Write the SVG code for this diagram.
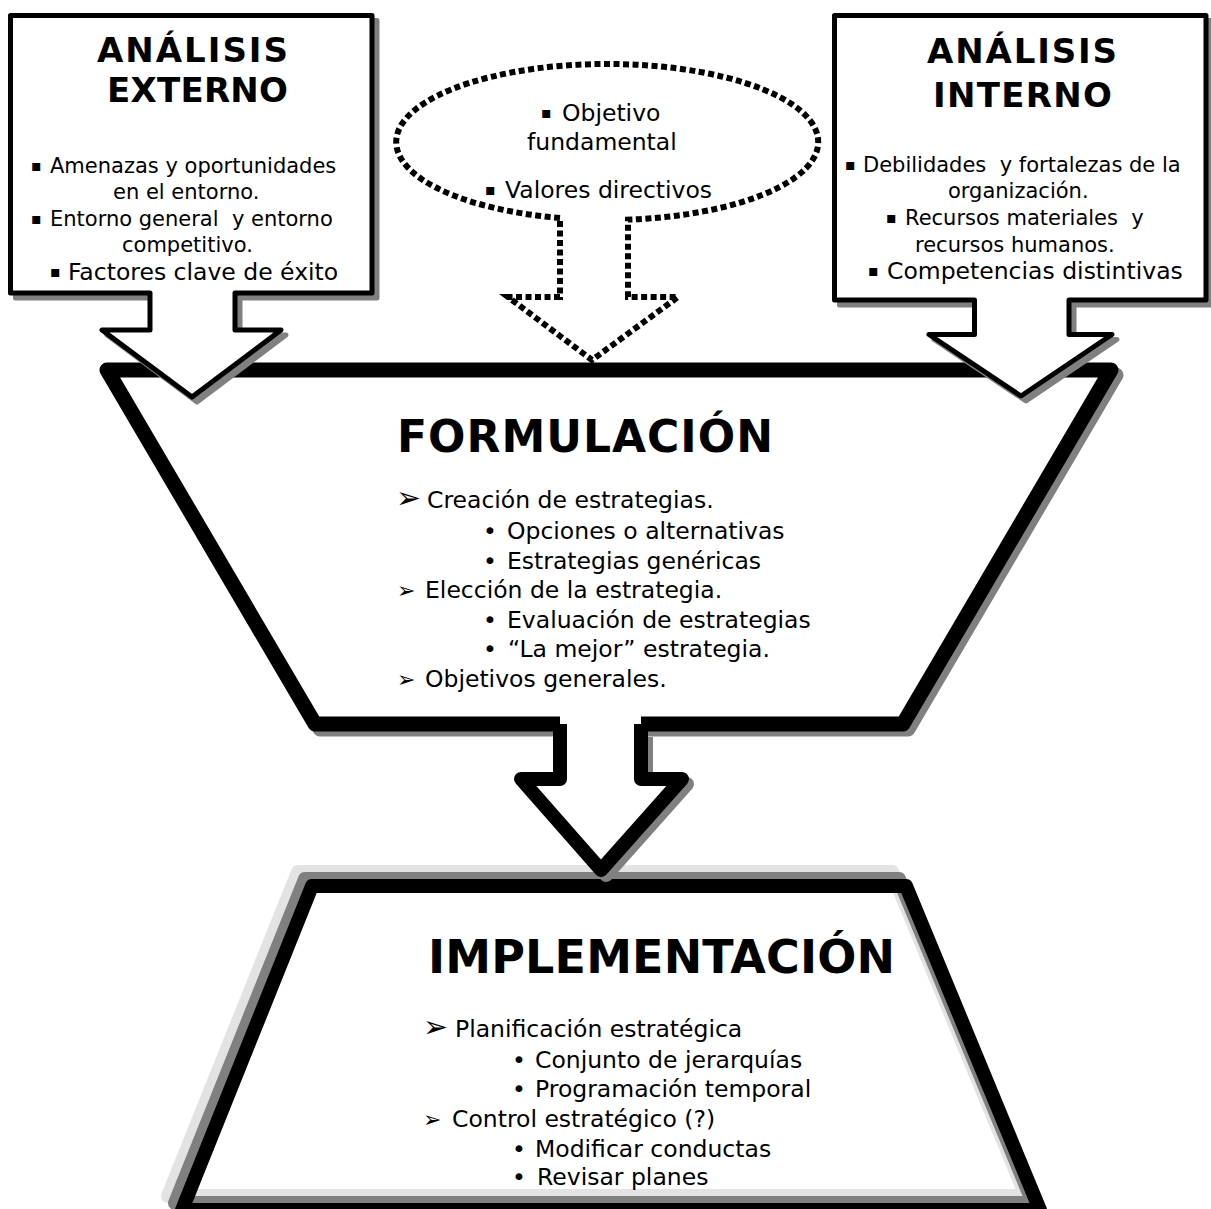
<svg xmlns="http://www.w3.org/2000/svg" xmlns:xlink="http://www.w3.org/1999/xlink" width="1211" height="1209" viewBox="0 0 1211 1209">
<style>
.t{font-family:"DejaVu Sans",Verdana,sans-serif;fill:#000}
.b{font-size:21px}
.m{font-size:23.5px}
.sq{font-size:16px}
.ar{font-size:30px;font-weight:bold}
.sm{font-size:22px;font-weight:bold}
.h{font-weight:bold}
.shadow{fill:#808080;stroke:#808080;stroke-linejoin:round}
.box{fill:#fff;stroke:#000;stroke-width:5;stroke-linejoin:round}
.thick{fill:#fff;stroke:#000;stroke-width:15;stroke-linejoin:round}
.outline{fill:none;stroke-width:14;stroke-linejoin:round}
.dotted{fill:#fff;stroke:#000;stroke-width:6;stroke-dasharray:6 3.5}
</style>
<defs>
<path id="formPath" d="M107 370 L1111 370 L903 724 L315 724 Z"/>
<path id="implPath" d="M312 886 L906 886 L1040 1210 L182 1210 Z"/>
<path id="leftCallout" d="M10.5 15.5 H372 V293 H235 V330 H281 L192 397 L102 330 H150 V293 H10.5 Z"/>
<path id="rightCallout" d="M834.5 15.5 H1206 V300 H1069 V334.5 H1112 L1021 396 L929 334.5 H974.5 V300 H834.5 Z"/>
</defs>
<rect width="1211" height="1209" fill="#fff"/>

<g id="formulacion">
<use xlink:href="#formPath" class="shadow" style="stroke-width:15" transform="translate(5,5)"/>
<use xlink:href="#formPath" class="thick"/>
</g>

<g id="implementacion">
<use xlink:href="#implPath" class="outline" stroke="#e3e3e3" transform="translate(-14,-14)"/>
<use xlink:href="#implPath" class="outline" stroke="#808080" transform="translate(-7,-7)"/>
<use xlink:href="#implPath" class="outline" stroke="#000"/>
</g>

<g id="connectors">
<g id="arrow-form-impl">
<path d="M565 737 V784 H526 L606 875 L687 784 H646 V737" fill="#808080" stroke="#808080" stroke-width="14" stroke-linejoin="round"/>
<path d="M560 712 H641 V779 H682 L601 870 L521 779 H560 Z" fill="#fff"/>
<path d="M560 724 V779 H521 L601 870 L682 779 H641 V724" fill="none" stroke="#000" stroke-width="14" stroke-linejoin="round"/>
</g>
</g>

<g id="analisis-externo">
<use xlink:href="#leftCallout" class="shadow" style="stroke-width:5" transform="translate(5,5)"/>
<use xlink:href="#leftCallout" class="box"/>
<text class="t h" font-size="34" x="97" y="62" textLength="191" lengthAdjust="spacing">ANÁLISIS</text>
<text class="t h" font-size="34" x="107" y="102" textLength="181" lengthAdjust="spacing">EXTERNO</text>
<text class="t b" xml:space="preserve" y="173"><tspan class="sq" x="31" dy="-2">▪</tspan><tspan x="50" dy="2">Amenazas y oportunidades</tspan></text>
<text class="t b" x="113" y="199">en el entorno.</text>
<text class="t b" xml:space="preserve" y="226"><tspan class="sq" x="31" dy="-2">▪</tspan><tspan x="50" dy="2">Entorno general  y entorno</tspan></text>
<text class="t b" x="122" y="252">competitivo.</text>
<text class="t m" y="280"><tspan class="sq" x="50" dy="-3">▪</tspan><tspan x="68" dy="3">Factores clave de éxito</tspan></text>
</g>

<g id="analisis-interno">
<use xlink:href="#rightCallout" class="shadow" style="stroke-width:5" transform="translate(5,5)"/>
<use xlink:href="#rightCallout" class="box"/>
<text class="t h" font-size="34" x="927" y="63" textLength="190" lengthAdjust="spacing">ANÁLISIS</text>
<text class="t h" font-size="34" x="933" y="107" textLength="179" lengthAdjust="spacing">INTERNO</text>
<text class="t b" xml:space="preserve" y="172"><tspan class="sq" x="845" dy="-2">▪</tspan><tspan x="863" dy="2">Debilidades  y fortalezas de la</tspan></text>
<text class="t b" x="948" y="198">organización.</text>
<text class="t b" xml:space="preserve" y="225"><tspan class="sq" x="886" dy="-2">▪</tspan><tspan x="905" dy="2">Recursos materiales  y</tspan></text>
<text class="t b" x="915" y="252">recursos humanos.</text>
<text class="t m" y="279"><tspan class="sq" x="868" dy="-3">▪</tspan><tspan x="887" dy="3">Competencias distintivas</tspan></text>
</g>

<g id="objetivo-valores">
<path class="dotted" d="M560 218 A211 78 0 1 1 628 219.6 L628 297 L678 297 L592 360 L508 297 L560 297 Z"/>
<text class="t m" y="121"><tspan class="sq" x="541" dy="-3">▪</tspan><tspan x="562" dy="3">Objetivo</tspan></text>
<text class="t m" x="527" y="150">fundamental</text>
<text class="t m" y="198"><tspan class="sq" x="485" dy="-3">▪</tspan><tspan x="505" dy="3">Valores directivos</tspan></text>
</g>

<g id="formulacion-text">
<text class="t h" font-size="44" x="397" y="452" textLength="376" lengthAdjust="spacing">FORMULACIÓN</text>
<text class="t m" y="508"><tspan class="ar" x="396">➢</tspan><tspan x="427">Creación de estrategias.</tspan></text>
<text class="t m" y="539"><tspan x="483">•</tspan><tspan x="507">Opciones o alternativas</tspan></text>
<text class="t m" y="569"><tspan x="483">•</tspan><tspan x="507">Estrategias genéricas</tspan></text>
<text class="t m" y="598"><tspan class="sm" x="397">➢</tspan><tspan x="425">Elección de la estrategia.</tspan></text>
<text class="t m" y="628"><tspan x="483">•</tspan><tspan x="507">Evaluación de estrategias</tspan></text>
<text class="t m" y="657"><tspan x="483">•</tspan><tspan x="508">“La mejor” estrategia.</tspan></text>
<text class="t m" y="687"><tspan class="sm" x="397">➢</tspan><tspan x="425">Objetivos generales.</tspan></text>
</g>

<g id="implementacion-text">
<text class="t h" font-size="46" x="428" y="973" textLength="467" lengthAdjust="spacing">IMPLEMENTACIÓN</text>
<text class="t m" y="1037"><tspan class="ar" x="423">➢</tspan><tspan x="455">Planificación estratégica</tspan></text>
<text class="t m" y="1068"><tspan x="512">•</tspan><tspan x="535">Conjunto de jerarquías</tspan></text>
<text class="t m" y="1097"><tspan x="512">•</tspan><tspan x="535">Programación temporal</tspan></text>
<text class="t m" y="1127"><tspan class="sm" x="423">➢</tspan><tspan x="452">Control estratégico (?)</tspan></text>
<text class="t m" y="1157"><tspan x="512">•</tspan><tspan x="535">Modificar conductas</tspan></text>
<text class="t m" y="1185"><tspan x="512">•</tspan><tspan x="537">Revisar planes</tspan></text>
</g>
</svg>
